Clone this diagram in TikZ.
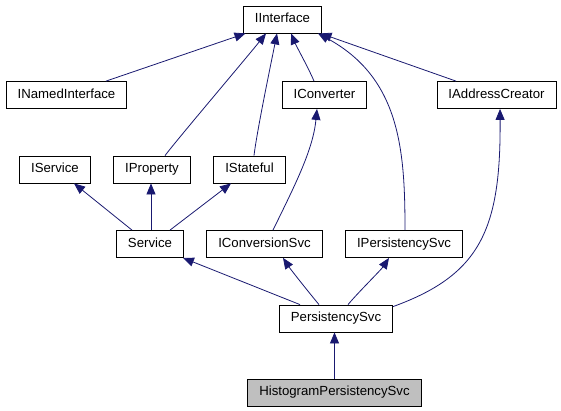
\documentclass[tikz,border=0pt]{standalone}
\usepackage{fontspec}
\setmainfont{Liberation Sans}
\usetikzlibrary{arrows.meta,calc}
\definecolor{edgeblue}{RGB}{25,25,112}
\definecolor{hlgray}{RGB}{191,191,191}
\begin{document}
\begin{tikzpicture}[x=1bp,y=-1bp,
  cls/.style={draw=black, line width=0.8bp, fill=white, inner xsep=11.5bp, inner ysep=0pt,
    minimum height=27bp, text height=9.6bp, text depth=2.8bp,
    font=\fontsize{13.2bp}{15bp}\selectfont},
  cur/.style={cls, fill=hlgray},
  edge/.style={draw=edgeblue, line width=0.8bp, -{Triangle[length=11bp,width=9bp]}, fill=none}]
\useasboundingbox (0,0) rectangle (561,410);
\node[cls] (II)  at (282.5,19.5) {IInterface};
\node[cls] (INI) at (66.5,95)    {INamedInterface};
\node[cls] (ICV) at (324.5,95)   {IConverter};
\node[cls] (IAC) at (496.5,95)   {IAddressCreator};
\node[cls] (ISV) at (55,169.5)   {IService};
\node[cls] (IPR) at (152,169.5)  {IProperty};
\node[cls] (IST) at (249.5,169.5){IStateful};
\node[cls] (SV)  at (150,244)    {Service};
\node[cls] (ICS) at (264.5,244)  {IConversionSvc};
\node[cls] (IPS) at (404,244)    {IPersistencySvc};
\node[cls] (PS)  at (336,318.5)  {PersistencySvc};
\node[cur] (HPS) at (334.5,392.5){HistogramPersistencySvc};
% edges
\draw[edge] ($(INI.north)+(39.5,0)$) -- ($(II.south)+(-37,0)$);
\draw[edge] ($(IPR.north)+(13,0)$) .. controls +(12,-16) and +(-20,25) .. ($(II.south)+(-16.5,0)$);
\draw[edge] ($(IST.north)+(4.5,0)$) .. controls +(3,-25) and +(-6,30) .. ($(II.south)+(-5.5,0)$);
\draw[edge] ($(ICV.north)+(-10.5,0)$) .. controls +(-5,-12) and +(5,12) .. ($(II.south)+(8.5,0)$);
\draw[edge] ($(IAC.north)+(-40.5,0)$) -- ($(II.south)+(38,0)$);
\draw[edge] ($(IPS.north)+(1,0)$) .. controls (405,150) and (400,78) .. ($(II.south)+(35.5,0)$);
\draw[edge] ($(SV.north)+(-18,0)$) -- ($(ISV.south)+(19,0)$);
\draw[edge] ($(SV.north)+(1,0)$) -- ($(IPR.south)+(-1,0)$);
\draw[edge] ($(SV.north)+(20,0)$) -- ($(IST.south)+(-18.5,0)$);
\draw[edge] ($(ICS.north)+(8.5,0)$) .. controls (295,185) and (313,150) .. ($(ICV.south)+(-7.5,0)$);
\draw[edge] ($(PS.north east)+(0,2)$) .. controls (480,275) and (501,230) .. ($(IAC.south)+(3.5,0)$);
\draw[edge] ($(PS.north)+(-36,0)$) -- ($(SV.south east)+(-1,0)$);
\draw[edge] ($(PS.north)+(-17,0)$) .. controls +(-10,-12) and +(8,12) .. ($(ICS.south)+(18.5,0)$);
\draw[edge] ($(PS.north)+(12,0)$) .. controls +(10,-12) and +(-8,12) .. ($(IPS.south)+(-15,0)$);
\draw[edge] (HPS.north) -- (HPS.north |- PS.south);
\end{tikzpicture}
\end{document}
